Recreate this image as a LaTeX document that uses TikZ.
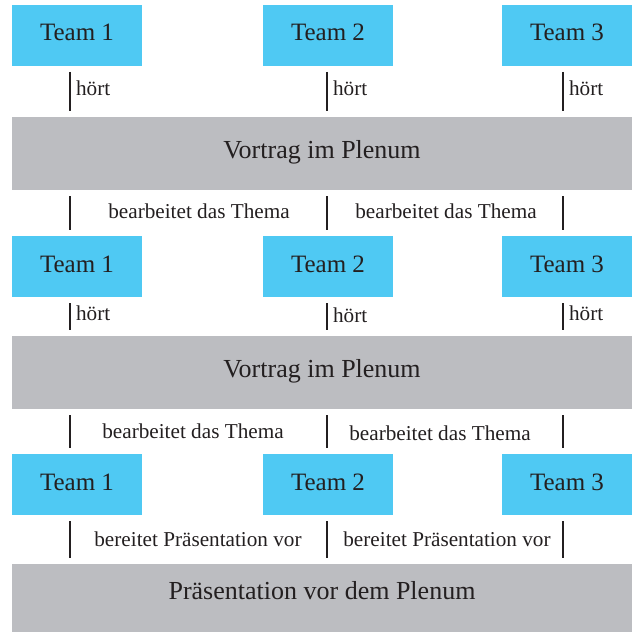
\documentclass[tikz,border=0pt]{standalone}
\usepackage{fontspec}
\setmainfont{Liberation Serif}
\usetikzlibrary{positioning, calc}
\definecolor{teamcyan}{HTML}{4FC9F3}
\definecolor{plenumgray}{HTML}{BCBDC1}
\definecolor{inkdark}{HTML}{231F20}

\begin{document}
\begin{tikzpicture}[
    x=0.5pt, y=-0.5pt,
    every node/.style={text=inkdark},
    team/.style={fill=teamcyan, minimum width=65pt, minimum height=30.5pt, inner sep=0pt, text depth=2.5pt, font=\fontsize{12.5}{14}\selectfont},
    plenum/.style={fill=plenumgray, minimum width=310pt, inner sep=0pt, text depth=4.5pt, font=\fontsize{13}{15}\selectfont},
    link/.style={draw=inkdark, line width=1.1pt, shorten <=3pt, shorten >=3pt},
    lbl/.style={font=\fontsize{10.6}{12}\selectfont, inner sep=1.5pt},
    hears/.style={lbl, right, xshift=1pt, yshift=1.5pt}
]
    \useasboundingbox (0,0) rectangle (633,632);
    \coordinate (c1) at (70,0);
    \coordinate (c2) at (327,0);
    \coordinate (c3) at (563,0);

    % first round
    \node[team] (t11) at (77,35) {Team 1};
    \node[team] (t12) at (328,35) {Team 2};
    \node[team] (t13) at (567,35) {Team 3};
    \node[plenum, minimum height=36.5pt] (p1) at (322,153.5) {Vortrag im Plenum};

    \draw[link] (t11.south -| c1) -- (p1.north -| c1) node[midway, hears] {hört};
    \draw[link] (t12.south -| c2) -- (p1.north -| c2) node[midway, hears] {hört};
    \draw[link] (t13.south -| c3) -- (p1.north -| c3) node[midway, hears] {hört};

    % second round
    \node[team] (t21) at (77,266.5) {Team 1};
    \node[team] (t22) at (328,266.5) {Team 2};
    \node[team] (t23) at (567,266.5) {Team 3};
    \node[plenum, minimum height=36.5pt] (p2) at (322,372.5) {Vortrag im Plenum};

    \draw[link] (p1.south -| c1) -- (t21.north -| c1);
    \draw[link] (p1.south -| c2) -- (t22.north -| c2);
    \draw[link] (p1.south -| c3) -- (t23.north -| c3);
    \node[lbl] (b11) at (199,211) {bearbeitet das Thema};
    \node[lbl] (b12) at (446,211) {bearbeitet das Thema};

    \draw[link] (t21.south -| c1) -- (p2.north -| c1) node[midway, hears] {hört};
    \draw[link] (t22.south -| c2) -- (p2.north -| c2) node[midway, hears, yshift=-1pt] {hört};
    \draw[link] (t23.south -| c3) -- (p2.north -| c3) node[midway, hears] {hört};

    % third round
    \node[team] (t31) at (77,484.5) {Team 1};
    \node[team] (t32) at (328,484.5) {Team 2};
    \node[team] (t33) at (567,484.5) {Team 3};
    \node[plenum, minimum height=34pt, text depth=8pt] (p3) at (322,598) {Präsentation vor dem Plenum};

    \draw[link] (p2.south -| c1) -- (t31.north -| c1);
    \draw[link] (p2.south -| c2) -- (t32.north -| c2);
    \draw[link] (p2.south -| c3) -- (t33.north -| c3);
    \node[lbl] (b21) at (193,431) {bearbeitet das Thema};
    \node[lbl] (b22) at (440,433) {bearbeitet das Thema};

    \draw[link] (t31.south -| c1) -- (p3.north -| c1);
    \draw[link] (t32.south -| c2) -- (p3.north -| c2);
    \draw[link] (t33.south -| c3) -- (p3.north -| c3);
    \node[lbl] (v31) at (198,539) {bereitet Präsentation vor};
    \node[lbl] (v32) at (447,539) {bereitet Präsentation vor};
\end{tikzpicture}
\end{document}
